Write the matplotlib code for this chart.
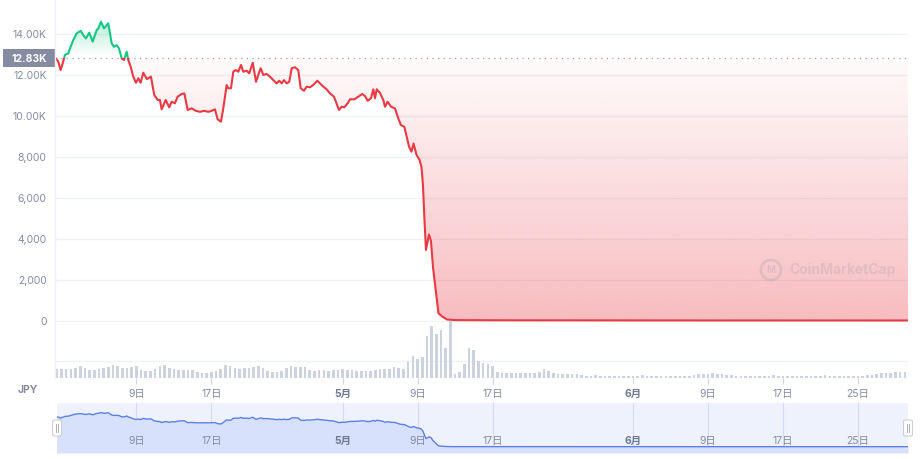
import numpy as np
import matplotlib
matplotlib.use("Agg")
import matplotlib.pyplot as plt
from matplotlib.patches import Rectangle, FancyBboxPatch, Ellipse
from matplotlib.lines import Line2D
from matplotlib.colors import to_rgb

plt.rcParams['font.family'] = ['Inter', 'Noto Sans CJK JP', 'DejaVu Sans']

# price: days since 2022-04-01 00:00, value in JPY
price_day = [
    -0.59, -0.34, -0.09, 0.13, 0.37, 0.73, 0.91, 1.26, 1.62, 2.05,
    2.33, 2.61, 2.97, 3.33, 3.76, 3.93, 4.22, 4.54, 4.99, 5.36,
    5.60, 5.89, 6.14, 6.42, 6.67, 6.96, 7.13, 7.39, 7.66, 7.95,
    8.20, 8.45, 8.73, 9.12, 9.55, 9.90, 10.27, 10.51, 10.69, 11.12,
    11.50, 11.76, 12.11, 12.40, 12.83, 13.11, 13.47, 13.90, 14.32, 14.78,
    15.24, 15.67, 16.03, 16.38, 16.67, 17.02, 17.27, 17.63, 17.80, 18.09,
    18.34, 18.59, 18.87, 19.16, 19.40, 19.77, 20.04, 20.41, 20.76, 21.00,
    21.26, 21.54, 21.90, 22.25, 22.60, 22.97, 23.24, 23.50, 23.75, 24.03,
    24.31, 24.57, 24.92, 25.27, 25.53, 25.88, 26.17, 26.52, 26.87, 27.30,
    27.59, 27.94, 28.30, 28.66, 29.08, 29.62, 29.90, 30.18, 30.54, 30.79,
    31.25, 31.68, 32.10, 32.39, 32.68, 33.03, 33.28, 33.46, 33.64, 33.99,
    34.34, 34.53, 34.81, 35.17, 35.59, 35.94, 36.23, 36.59, 36.84, 37.09,
    37.35, 37.57, 37.89, 38.21, 38.42, 38.58, 38.74, 38.90, 39.22, 39.43,
    39.65, 39.86, 40.07, 40.23, 40.61, 41.14, 42.0, 46.8, 57.5, 68.1,
    78.8, 90.34]
price_jpy = [
    12820, 12650, 12240, 12570, 12980, 13060, 13300, 13710, 14040, 14160,
    13950, 13790, 14070, 13630, 14200, 14280, 14600, 14280, 14530, 13550,
    13380, 13460, 13300, 12820, 12730, 13140, 12730, 12400, 11920, 11620,
    11840, 11620, 12110, 11800, 11920, 11020, 10780, 10780, 10320, 10780,
    10420, 10690, 10620, 10940, 11070, 11100, 10290, 10370, 10250, 10200,
    10250, 10200, 10250, 10320, 9830, 9720, 10370, 11510, 11350, 11350,
    12160, 12240, 12160, 12490, 12160, 12210, 12080, 12600, 11670, 12000,
    12330, 12000, 12050, 11920, 11750, 11590, 11720, 11590, 11750, 11590,
    11670, 12330, 12380, 12240, 11350, 11230, 11430, 11400, 11510, 11720,
    11590, 11430, 11300, 11100, 10940, 10290, 10450, 10420, 10620, 10810,
    10810, 10940, 11070, 10970, 10740, 10860, 11300, 10860, 11300, 11130,
    10780, 10450, 10690, 10450, 10370, 9880, 9550, 9470, 8980, 8500,
    8250, 8650, 8100, 7850, 7500, 6600, 4900, 3450, 4200, 3900,
    2600, 1800, 1000, 360, 200, 50, 20, 10, 5, 3,
    2, 2]
base_price = 12830
base_label = "12.83K"

# volume per 12h, first bar at day -0.5
vol_first_day = -0.5
vol_step = 0.5
volume = [
    180, 180, 170, 180, 200, 230, 200, 160, 160, 170, 200,
    220, 260, 240, 200, 200, 220, 240, 160, 130, 140,
    180, 240, 250, 200, 180, 160, 160, 160, 150, 120,
    100, 100, 110, 140, 180, 250, 240, 200, 180, 190,
    200, 220, 230, 200, 140, 110, 110, 140, 200, 230,
    220, 220, 210, 160, 140, 160, 150, 140, 150, 160,
    170, 160, 150, 140, 140, 130, 130, 150, 170, 170,
    180, 220, 200, 180, 310, 440, 380, 410, 840, 1040,
    880, 960, 600, 1140, 80, 120, 280, 600, 560, 340,
    300, 280, 240, 120, 100, 90, 90, 90, 90, 90,
    90, 100, 120, 180, 140, 100, 80, 80, 80, 80,
    80, 60, 40, 40, 45, 40, 40, 35, 40, 40,
    40, 40, 35, 40, 45, 40, 40, 40, 35, 40,
    40, 40, 40, 40, 40, 60, 80, 80, 80, 90,
    80, 70, 60, 50, 40, 40, 40, 40, 40, 40,
    40, 40, 45, 40, 40, 40, 35, 40, 40, 40,
    40, 40, 40, 45, 40, 40, 40, 40, 40, 40,
    40, 40, 50, 60, 80, 90, 90, 100, 110, 120,
    110]

ytick_values = [0, 2000, 4000, 6000, 8000, 10000, 12000, 14000]
ytick_labels = ["0", "2,000", "4,000", "6,000", "8,000", "10.00K", "12.00K", "14.00K"]
xtick_dates = ["2022-04-09", "2022-04-17", "2022-05-01", "2022-05-09", "2022-05-17",
               "2022-06-01", "2022-06-09", "2022-06-17", "2022-06-25"]
xtick_labels = ["9日", "17日", "5月", "9日", "17日", "6月", "9日", "17日", "25日"]

RED = "#ea3943"
GREEN = "#16c784"
GREY = "#858ca2"
GRID = "#eff2f5"

W, H = 921, 459
fig = plt.figure(figsize=(W / 100, H / 100), dpi=100)


def box(x0, y0, x1, y1):
    return [x0 / W, 1 - y1 / H, (x1 - x0) / W, (y1 - y0) / H]


xmin, xmax = -0.69, 90.34
xtick_days = (np.array(xtick_dates, dtype="datetime64[D]") - np.datetime64("2022-04-01")).astype(float)
is_month = [lab.endswith("月") for lab in xtick_labels]

# ---- price panel
ax = fig.add_axes(box(55, 0, 908, 322))
for s in ax.spines.values():
    s.set_visible(False)

fill = ax.fill_between(price_day, price_jpy, base_price, color="none", lw=0)
clip = fill.get_paths()[0]


def gradient(color, a0, a1):
    g = np.zeros((256, 1, 4))
    g[..., :3] = to_rgb(color)
    g[:, 0, 3] = np.linspace(a0, a1, 256)
    return g


im_g = ax.imshow(gradient(GREEN, 0.0, 0.3), extent=(xmin, xmax, base_price, max(price_jpy)),
                 origin="lower", aspect="auto", zorder=1, interpolation="bilinear")
im_g.set_clip_path(clip, ax.transData)
im_r = ax.imshow(gradient(RED, 0.34, 0.02), extent=(xmin, xmax, 0, base_price),
                 origin="lower", aspect="auto", zorder=1, interpolation="bilinear")
im_r.set_clip_path(clip, ax.transData)

ln_g, = ax.plot(price_day, price_jpy, color=GREEN, lw=1.5, zorder=3, solid_joinstyle="round")
ln_g.set_clip_path(Rectangle((xmin, base_price), xmax - xmin, 1e6, transform=ax.transData))
ln_r, = ax.plot(price_day, price_jpy, color=RED, lw=1.5, zorder=3, solid_joinstyle="round")
ln_r.set_clip_path(Rectangle((xmin, -1e6), xmax - xmin, 1e6 + base_price, transform=ax.transData))

ax.axhline(base_price, color="#9aa3b5", lw=0.9, ls=(0, (1, 3.5)), zorder=2)

ax.set_xlim(xmin, xmax)
ax.set_ylim(-73, 15666)
ax.set_yticks(ytick_values, ytick_labels)
ax.set_xticks([])
ax.grid(axis="y", color=GRID, lw=1)
ax.set_axisbelow(True)
ax.tick_params(axis="y", length=0, pad=6, labelsize=7.5, labelcolor=GREY)

# watermark
fig.patches.append(Ellipse((771 / W, 1 - 270 / H), 20 / W, 20 / H, transform=fig.transFigure,
                           fill=False, ec="#8a94a8", lw=2, alpha=0.22))
fig.text(771 / W, 1 - 270 / H, "M", ha="center", va="center", fontsize=7, fontweight="bold",
         color="#8a94a8", alpha=0.22)
fig.text(789 / W, 1 - 270 / H, "CoinMarketCap", ha="left", va="center", fontsize=10,
         fontweight="bold", color="#8a94a8", alpha=0.22)

# base price label
fig.patches.append(Rectangle((3 / W, 1 - 67 / H), 52 / W, 18 / H, transform=fig.transFigure,
                             color="#858ca2", lw=0))
fig.text(29 / W, 1 - 58.5 / H, base_label, ha="center", va="center", color="white",
         fontsize=7.5, fontweight="bold")

# ---- volume panel
ax_vol = fig.add_axes(box(55, 320, 908, 377.5))
ax_vol.patch.set_alpha(0)
for s in ax_vol.spines.values():
    s.set_visible(False)
vol_day = vol_first_day + vol_step * np.arange(len(volume))
ax_vol.bar(vol_day, volume, width=0.28, color="#cdd3de", lw=0)
ax_vol.set_xlim(xmin, xmax)
ax_vol.set_ylim(0, 1150)
ax_vol.set_yticks([326], [""])
ax_vol.grid(axis="y", color=GRID, lw=1)
ax_vol.set_axisbelow(True)
ax_vol.tick_params(axis="y", length=0)
ax_vol.set_xticks(xtick_days, xtick_labels)
ax_vol.tick_params(axis="x", length=4, color="#ccd6eb", labelsize=7.5, labelcolor=GREY, pad=4)
for lab, m in zip(ax_vol.get_xticklabels(), is_month):
    if m:
        lab.set_fontweight("bold")
        lab.set_color("#6f7a90")

fig.add_artist(Line2D([55 / W, 55 / W], [1 - 378 / H, 1], color=GRID, lw=1))
fig.text(28 / W, 1 - 390 / H, "JPY", ha="center", va="center", fontsize=7.5,
         fontweight="bold", color=GREY)

# ---- navigator
ax_nav = fig.add_axes(box(57, 403, 908, 453))
for s in ax_nav.spines.values():
    s.set_visible(False)
ax_nav.set_facecolor("#eef2fd")
ax_nav.fill_between(price_day, price_jpy, -2700, color="#d8e1fb", lw=0)
ax_nav.plot(price_day, price_jpy, color="#5c7fe6", lw=1)
ax_nav.set_xlim((57 - 61.5) / 9.37, xmax)
ax_nav.set_ylim(-2700, 18700)
ax_nav.set_xticks(xtick_days)
ax_nav.set_yticks([])
ax_nav.grid(axis="x", color="#d3dbf3", lw=0.8)
ax_nav.set_axisbelow(True)
ax_nav.tick_params(length=0, labelbottom=False)
for d, lab, m in zip(xtick_days, xtick_labels, is_month):
    ax_nav.text(d, 0.24, lab, transform=ax_nav.get_xaxis_transform(), ha="center", va="center",
                fontsize=7.5, color="#6f7a90" if m else GREY,
                fontweight="bold" if m else "normal")

for cx in (57, 908):
    fig.patches.append(FancyBboxPatch(((cx - 4.5) / W, 1 - 436 / H), 9 / W, 16 / H,
                                      boxstyle="round,pad=0,rounding_size=0.003",
                                      transform=fig.transFigure, fc="white", ec="#cccfd8", lw=0.8))
    for dx in (-1.2, 1.2):
        fig.add_artist(Line2D([(cx + dx) / W] * 2, [1 - 432 / H, 1 - 424 / H],
                              color="#9aa0ad", lw=0.6))

fig.savefig("out.png", dpi=100)
